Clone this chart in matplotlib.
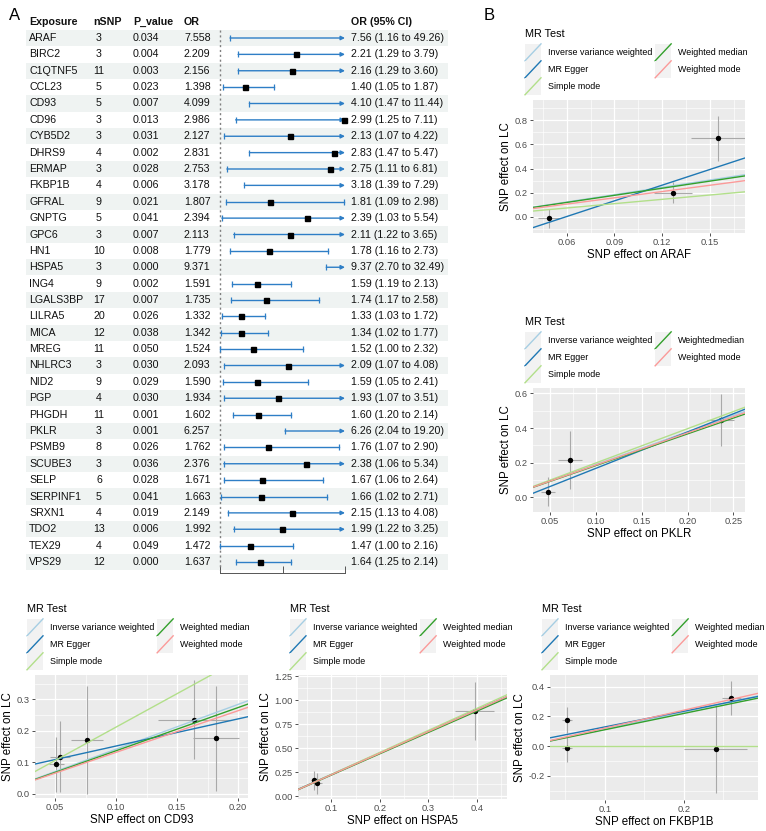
"""
Forest plot of significant exposures (A) and MR scatter plots (B).
"""

import numpy as np
import matplotlib.pyplot as plt
from matplotlib.lines import Line2D
from matplotlib.patches import Rectangle
from matplotlib.legend_handler import HandlerBase
from matplotlib.ticker import FormatStrFormatter, MultipleLocator

plt.rcParams['font.family'] = ['Liberation Sans', 'DejaVu Sans']

W, H = 766, 831

# ---------------- forest data ----------------
exposure = ["ARAF", "BIRC2", "C1QTNF5", "CCL23", "CD93", "CD96", "CYB5D2", "DHRS9",
            "ERMAP", "FKBP1B", "GFRAL", "GNPTG", "GPC6", "HN1", "HSPA5", "ING4",
            "LGALS3BP", "LILRA5", "MICA", "MREG", "NHLRC3", "NID2", "PGP", "PHGDH",
            "PKLR", "PSMB9", "SCUBE3", "SELP", "SERPINF1", "SRXN1", "TDO2", "TEX29",
            "VPS29"]
nsnp = [3, 3, 11, 5, 5, 3, 3, 4, 3, 4, 9, 5, 3, 10, 3, 9, 17, 20, 12, 11, 3, 9, 4,
        11, 3, 8, 3, 6, 5, 4, 13, 4, 12]
p_value = ["0.034", "0.004", "0.003", "0.023", "0.007", "0.013", "0.031", "0.002",
           "0.028", "0.006", "0.021", "0.041", "0.007", "0.008", "0.000", "0.002",
           "0.007", "0.026", "0.038", "0.050", "0.030", "0.029", "0.030", "0.001",
           "0.001", "0.026", "0.036", "0.028", "0.041", "0.019", "0.006", "0.049",
           "0.000"]
odds = [7.558, 2.209, 2.156, 1.398, 4.099, 2.986, 2.127, 2.831, 2.753, 3.178, 1.807,
        2.394, 2.113, 1.779, 9.371, 1.591, 1.735, 1.332, 1.342, 1.524, 2.093, 1.590,
        1.934, 1.602, 6.257, 1.762, 2.376, 1.671, 1.663, 2.149, 1.992, 1.472, 1.637]
ci_low = [1.16, 1.29, 1.29, 1.05, 1.47, 1.25, 1.07, 1.47, 1.11, 1.39, 1.09, 1.03,
          1.22, 1.16, 2.70, 1.19, 1.17, 1.03, 1.02, 1.00, 1.07, 1.05, 1.07, 1.20,
          2.04, 1.07, 1.06, 1.06, 1.02, 1.13, 1.22, 1.00, 1.25]
ci_high = [49.26, 3.79, 3.60, 1.87, 11.44, 7.11, 4.22, 5.47, 6.81, 7.29, 2.98, 5.54,
           3.65, 2.73, 32.49, 2.13, 2.58, 1.72, 1.77, 2.32, 4.08, 2.41, 3.51, 2.14,
           19.20, 2.90, 5.34, 2.64, 2.71, 4.08, 3.25, 2.16, 2.14]
or_ticks = [1, 2, 3]

# ---------------- scatter data ----------------
methods = ["Inverse variance weighted", "MR Egger", "Simple mode",
           "Weighted median", "Weighted mode"]
methods_pklr = ["Inverse variance weighted", "MR Egger", "Simple mode",
                "Weightedmedian", "Weighted mode"]
method_colors = ["#A6CEE3", "#1F78B4", "#B2DF8A", "#33A02C", "#FB9A99"]

araf_bx = [0.049, 0.127, 0.155]
araf_by = [-0.015, 0.200, 0.650]
araf_sx = [0.007, 0.012, 0.017]
araf_sy = [0.080, 0.090, 0.190]
araf_slope = [2.03, 4.35, 1.20, 1.97, 1.74]
araf_icpt = [0, -0.26, 0, 0, 0]

pklr_bx = [0.048, 0.072, 0.236]
pklr_by = [0.033, 0.215, 0.445]
pklr_sx = [0.008, 0.013, 0.015]
pklr_sy = [0.085, 0.165, 0.150]
pklr_slope = [1.89, 2.10, 1.98, 1.83, 1.86]
pklr_icpt = [0, -0.043, 0, 0, 0]

cd93_bx = [0.051, 0.054, 0.076, 0.164, 0.182]
cd93_by = [0.094, 0.118, 0.171, 0.235, 0.176]
cd93_sx = [0.006, 0.008, 0.013, 0.030, 0.019]
cd93_sy = [0.088, 0.112, 0.170, 0.125, 0.165]
cd93_slope = [1.42, 0.86, 2.12, 1.37, 1.32]
cd93_icpt = [0, 0.066, 0, 0, 0]

hspa5_bx = [0.065, 0.070, 0.395]
hspa5_by = [0.165, 0.135, 0.890]
hspa5_sx = [0.008, 0.010, 0.040]
hspa5_sy = [0.100, 0.110, 0.300]
hspa5_slope = [2.25, 2.24, 2.29, 2.22, 2.25]
hspa5_icpt = [0, 0.003, 0, 0, 0]

fkbp_bx = [0.052, 0.052, 0.240, 0.260]
fkbp_by = [0.175, -0.015, -0.020, 0.325]
fkbp_sx = [0.006, 0.006, 0.040, 0.012]
fkbp_sy = [0.090, 0.090, 0.295, 0.115]
fkbp_slope = [1.15, 1.06, 0.0, 1.10, 1.21]
fkbp_icpt = [0, 0.023, 0, 0, 0]


def px_rect(l, t, r, b):
    return [l / W, 1 - b / H, (r - l) / W, (b - t) / H]


class DiagHandler(HandlerBase):
    """ggplot-like abline legend key: grey box with a diagonal line."""

    def create_artists(self, legend, orig_handle, xdescent, ydescent,
                       width, height, fontsize, trans):
        bg = Rectangle((-xdescent, -ydescent), width, height,
                       facecolor="#F2F2F2", edgecolor="none", transform=trans)
        ln = Line2D([-xdescent, -xdescent + width], [-ydescent, -ydescent + height],
                    color=orig_handle.get_color(), lw=1.0, transform=trans)
        return [bg, ln]


fig = plt.figure(figsize=(W / 100, H / 100), dpi=100)

# ================= Panel A: forest table =================
n = len(exposure)
rows = np.arange(n)
row0_px, row_h = 38.0, 16.375
top_px = row0_px - 1.5 * row_h
bot_px = row0_px + (n - 0.5) * row_h

ax_t = fig.add_axes(px_rect(26, top_px, 448, bot_px))
ax_t.set_xlim(26, 448)
ax_t.set_ylim(n - 0.5, -1.5)
ax_t.axis("off")
for i in rows[::2]:
    ax_t.axhspan(i - 0.5, i + 0.5, color="#EFF3F2", lw=0, zorder=0)

fs_tab = 7.7
hdr = dict(fontsize=fs_tab, fontweight="bold", va="center", color="#111111")
txt = dict(fontsize=fs_tab, va="center", color="#111111")
ax_t.text(29, -1, "Exposure", ha="left", **hdr)
ax_t.text(93, -1, "nSNP", ha="left", **hdr)
ax_t.text(133, -1, "P_value", ha="left", **hdr)
ax_t.text(184, -1, "OR", ha="left", **hdr)
ax_t.text(351, -1, "OR (95% CI)", ha="left", **hdr)


def r2(v):
    return f"{round(v + 1e-9, 2):.2f}"


for i in rows:
    ax_t.text(29, i, exposure[i], ha="left", **txt)
    ax_t.text(99, i, str(nsnp[i]), ha="center", **txt)
    ax_t.text(133, i, p_value[i], ha="left", **txt)
    ax_t.text(184, i, f"{odds[i]:.3f}", ha="left", **txt)
    ax_t.text(351, i, f"{r2(odds[i])} ({ci_low[i]:.2f} to {ci_high[i]:.2f})",
              ha="left", **txt)

# forest graphic
ax_f = fig.add_axes(px_rect(220, top_px, 345, bot_px))
ax_f.set_xlim(or_ticks[0], or_ticks[-1])
ax_f.set_ylim(n - 0.5, -1.5)
ax_f.patch.set_visible(False)
for s in ["top", "right", "left"]:
    ax_f.spines[s].set_visible(False)
ax_f.spines["bottom"].set_position(("outward", 2))
ax_f.spines["bottom"].set_color("#555555")
ax_f.spines["bottom"].set_linewidth(0.7)
ax_f.set_yticks([])
ax_f.set_xticks(or_ticks)
ax_f.tick_params(axis="x", direction="in", length=5, width=0.7, color="#555555",
                 labelbottom=False)
ax_f.plot([1, 1], [-0.5, n - 0.5], color="#808080", lw=1.0, ls=(0, (1.5, 2)),
          clip_on=False)

ci_col = "#2E7EC6"
xmax = or_ticks[-1]
for i in rows:
    lo, hi, o = ci_low[i], ci_high[i], odds[i]
    ax_f.plot([lo], [i], marker="|", ms=4, mew=0.9, color=ci_col, clip_on=False)
    if hi > xmax:
        ax_f.annotate("", xy=(xmax, i), xytext=(lo, i),
                      arrowprops=dict(arrowstyle="-|>", color=ci_col, lw=1.0,
                                      mutation_scale=6, shrinkA=0, shrinkB=0),
                      annotation_clip=False)
    else:
        ax_f.plot([lo, hi], [i, i], color=ci_col, lw=1.0, clip_on=False)
        ax_f.plot([hi], [i], marker="|", ms=4, mew=0.9, color=ci_col, clip_on=False)
    if o <= xmax:
        ax_f.plot([o], [i], marker="s", ms=3.6, color="black", clip_on=False,
                  zorder=5)

fig.text(9 / W, 1 - 15 / H, "A", fontsize=12, va="center", ha="left")
fig.text(484 / W, 1 - 15 / H, "B", fontsize=12, va="center", ha="left")


# ================= Panel B / bottom: MR scatter plots =================
def scatter_panel(box, bx, by, sx, sy, slopes, icpts, labels, xlim, ylim,
                  xstep, ystep, xfmt, yfmt, xname):
    l, t, r, b = box
    ax = fig.add_axes(px_rect(l, t, r, b))
    ax.set_facecolor("#EBEBEB")
    for s in ax.spines.values():
        s.set_visible(False)
    ax.set_xlim(*xlim)
    ax.set_ylim(*ylim)
    ax.xaxis.set_major_locator(MultipleLocator(xstep))
    ax.yaxis.set_major_locator(MultipleLocator(ystep))
    ax.xaxis.set_minor_locator(MultipleLocator(xstep / 2))
    ax.yaxis.set_minor_locator(MultipleLocator(ystep / 2))
    ax.xaxis.set_major_formatter(FormatStrFormatter(xfmt))
    ax.yaxis.set_major_formatter(FormatStrFormatter(yfmt))
    ax.grid(which="major", color="white", lw=0.9)
    ax.grid(which="minor", color="white", lw=0.45)
    ax.set_axisbelow(True)
    ax.tick_params(which="major", length=2.2, width=0.6, color="#333333",
                   labelsize=6.7, labelcolor="#4D4D4D", pad=1.5)
    ax.tick_params(which="minor", length=0)

    ax.errorbar(bx, by, xerr=sx, yerr=sy, fmt="none", ecolor="#A9A9A9",
                elinewidth=0.8, capsize=0, zorder=2)
    ax.scatter(bx, by, s=15, color="black", zorder=3, linewidths=0)
    for m, c0, col in zip(slopes, icpts, method_colors):
        ax.axline((0, c0), slope=m, color=col, lw=1.0, zorder=4)

    ax.set_xlabel(f"SNP effect on {xname}", fontsize=8.3, labelpad=1.5)
    ax.set_ylabel("SNP effect on LC", fontsize=8.3, labelpad=2)

    handles = [Line2D([], [], color=c) for c in method_colors]
    leg = ax.legend(handles, labels, handler_map={Line2D: DiagHandler()}, ncol=2,
                    loc="upper left", bbox_to_anchor=((l - 8) / W, 1 - (t - 71) / H),
                    bbox_transform=fig.transFigure, frameon=False, title="MR Test",
                    alignment="left", fontsize=6.4, title_fontsize=7.8,
                    handlelength=1.8, handleheight=2.56, labelspacing=0.0,
                    handletextpad=0.75, columnspacing=0.35, borderpad=0,
                    borderaxespad=0)
    leg._legend_box.sep = 3.5
    return ax


scatter_panel((533, 100, 745, 233), araf_bx, araf_by, araf_sx, araf_sy,
              araf_slope, araf_icpt, methods, (0.0388, 0.172), (-0.136, 0.97),
              0.03, 0.2, "%.2f", "%.1f", "ARAF")
scatter_panel((533, 388, 745, 512), pklr_bx, pklr_by, pklr_sx, pklr_sy,
              pklr_slope, pklr_icpt, methods_pklr, (0.0315, 0.2627), (-0.085, 0.631),
              0.05, 0.2, "%.2f", "%.1f", "PKLR")
scatter_panel((35, 675, 248, 798), cd93_bx, cd93_by, cd93_sx, cd93_sy,
              cd93_slope, cd93_icpt, methods, (0.0336, 0.208), (-0.0127, 0.377),
              0.05, 0.1, "%.2f", "%.1f", "CD93")
scatter_panel((298, 675, 507, 799), hspa5_bx, hspa5_by, hspa5_sx, hspa5_sy,
              hspa5_slope, hspa5_icpt, methods, (0.031, 0.462), (-0.028, 1.264),
              0.1, 0.25, "%.1f", "%.2f", "HSPA5")
scatter_panel((550, 675, 758, 800), fkbp_bx, fkbp_by, fkbp_sx, fkbp_sy,
              fkbp_slope, fkbp_icpt, methods, (0.0304, 0.2937), (-0.364, 0.479),
              0.1, 0.2, "%.1f", "%.1f", "FKBP1B")

fig.savefig("out.png", dpi=100)
